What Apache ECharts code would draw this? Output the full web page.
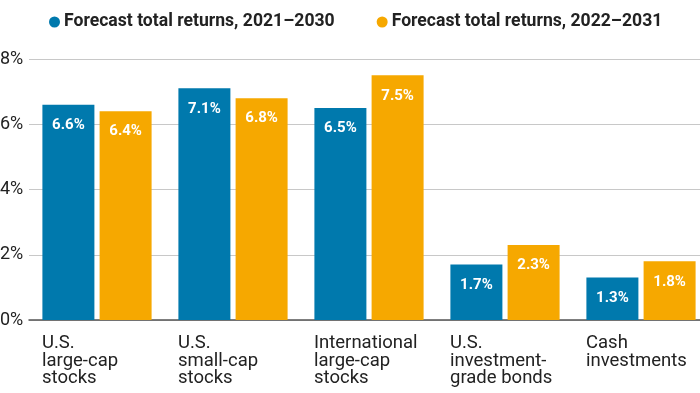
<!DOCTYPE html>
<html><head><meta charset="utf-8">
<script src="https://cdn.jsdelivr.net/npm/echarts@6/dist/echarts.min.js"></script>
<style>html,body{margin:0;padding:0;background:#fff}#c{width:700px;height:393px}</style>
</head><body><div id="c"></div>
<script>
const categories = ["U.S.\nlarge-cap\nstocks", "U.S.\nsmall-cap\nstocks", "International\nlarge-cap\nstocks", "U.S.\ninvestment-\ngrade bonds", "Cash\ninvestments"];
const seriesNames = ["Forecast total returns, 2021\u20132030", "Forecast total returns, 2022\u20132031"];
const returns2021 = [6.6, 7.1, 6.5, 1.7, 1.3];
const returns2022 = [6.4, 6.8, 7.5, 2.3, 1.8];
const yTicks = [0, 2, 4, 6, 8];

const FONT = 'Roboto';
const chart = echarts.init(document.getElementById('c'), null, {renderer: 'canvas'});
const barLabel = {
  show: true, position: 'insideTop', distance: 13, color: '#fff',
  fontFamily: FONT, fontWeight: 'bold', fontSize: 15,
  formatter: p => p.value.toFixed(1) + '%'
};
chart.setOption({
  animation: false,
  textStyle: {fontFamily: FONT},
  legend: {
    top: 8, left: 44, itemGap: 42,
    icon: 'circle', itemWidth: 11, itemHeight: 11,
    textStyle: {fontFamily: FONT, fontWeight: 'bold', fontSize: 17.6, color: '#222', padding: [0, 0, 0, -1]},
    data: seriesNames
  },
  grid: {left: 29, width: 680, top: 59, height: 261, containLabel: false, outerBoundsMode: 'none'},
  xAxis: {
    type: 'category', data: categories,
    axisLine: {lineStyle: {color: '#555', width: 1.5}},
    axisTick: {show: false},
    axisLabel: {
      margin: 15, align: 'center', interval: 0,
      formatter: v => v.split('\n').map(s => '{a|' + s + '}').join('\n'),
      rich: {a: {width: 110, align: 'left', fontFamily: FONT, fontSize: 18.5, lineHeight: 17.5, color: '#222'}}
    }
  },
  yAxis: {
    type: 'value', min: yTicks[0], max: yTicks[yTicks.length - 1], interval: 2,
    axisLabel: {formatter: '{value}%', align: 'left', margin: 29, fontFamily: FONT, fontSize: 18, color: '#222'},
    splitLine: {lineStyle: {color: '#c8c8c8', width: 1.2}},
    axisLine: {show: false}, axisTick: {show: false}
  },
  series: [
    {name: seriesNames[0], type: 'bar', data: returns2021, barWidth: 52, barGap: '10%',
     itemStyle: {color: '#0079ad'}, label: barLabel},
    {name: seriesNames[1], type: 'bar', data: returns2022, barWidth: 52, barGap: '10%',
     itemStyle: {color: '#f6a800'}, label: barLabel}
  ]
});
</script></body></html>
